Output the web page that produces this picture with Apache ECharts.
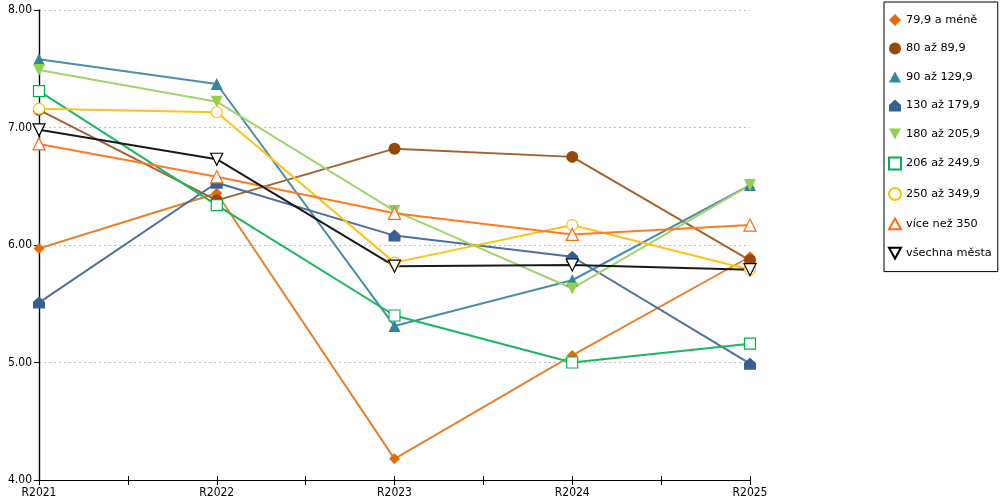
<!DOCTYPE html>
<html>
<head>
<meta charset="utf-8">
<script src="https://cdn.jsdelivr.net/npm/echarts@6/dist/echarts.min.js"></script>
<style>html,body{margin:0;padding:0;background:#fff}#c{width:1000px;height:500px}</style>
</head>
<body>
<div id="c"></div>
<script>
const categories = ['R2021', 'R2022', 'R2023', 'R2024', 'R2025'];
const yTicks = [4, 5, 6, 7, 8];

const s79 = [5.97, 6.44, 4.18, 5.06, 5.90];
const s80 = [7.15, 6.38, 6.82, 6.75, 5.87];
const s90 = [7.58, 7.37, 5.31, 5.70, 6.51];
const s130 = [5.51, 6.53, 6.08, 5.90, 4.99];
const s180 = [7.49, 7.22, 6.29, 5.63, 6.51];
const s206 = [7.31, 6.34, 5.40, 5.00, 5.16];
const s250 = [7.16, 7.13, 5.85, 6.17, 5.79];
const s350 = [6.86, 6.58, 6.27, 6.09, 6.17];
const sAll = [6.98, 6.73, 5.82, 5.83, 5.79];

const names = ['79,9 a méně', '80 až 89,9', '90 až 129,9', '130 až 179,9', '180 až 205,9', '206 až 249,9', '250 až 349,9', 'více než 350', 'všechna města'];

const HOUSE = 'path://M5,0 L10,4.5 L10,10 L0,10 L0,4.5 Z';
const DOWN = 'path://M0,0 L10,0 L5,9 Z';
const UP = 'path://M5,0 L10,9 L0,9 Z';

function pts(arr) { return arr.map((v, i) => [i, v]); }

function mk(name, data, lineColor, markColor, symbol, size, hollow) {
  return {
    name: name, type: 'line', data: pts(data),
    symbol: symbol, symbolSize: size,
    showAllSymbol: true,
    lineStyle: { color: lineColor, width: 2 },
    itemStyle: hollow
      ? { color: '#ffffff', borderColor: markColor, borderWidth: 1.2 }
      : { color: markColor, borderColor: markColor, borderWidth: 0 },
    emphasis: { disabled: true },
    animation: false
  };
}

const series = [
  mk(names[0], s79, '#E8812C', '#E36C09', 'diamond', 11, false),
  mk(names[1], s80, '#A3622C', '#974706', 'circle', 12, false),
  mk(names[2], s90, '#4A8EA5', '#31859C', UP, 12, false),
  mk(names[3], s130, '#4D6F9B', '#376092', HOUSE, 12, false),
  mk(names[4], s180, '#A2D46A', '#92D050', DOWN, 12, false),
  mk(names[5], s206, '#1CB560', '#00B050', 'rect', 11, true),
  mk(names[6], s250, '#FFC21A', '#FFC000', 'circle', 11, true),
  mk(names[7], s350, '#FF7A22', '#FF6A10', UP, 12, true),
  mk(names[8], sAll, '#1a1a1a', '#000000', DOWN, 12, true)
];

const legendIcons = ['diamond', 'circle', UP, HOUSE, DOWN, 'rect', 'circle', UP, DOWN];

const axisFont = { fontFamily: 'DejaVu Sans Condensed, DejaVu Sans, sans-serif', fontSize: 12, color: '#000' };

const chart = echarts.init(document.getElementById('c'), null, { renderer: 'canvas' });
chart.setOption({
  animation: false,
  backgroundColor: '#fff',
  grid: { left: 39, right: 250, top: 10, bottom: 20, containLabel: false },
  legend: {
    orient: 'vertical', left: 884, top: 2,
    data: names.map((n, i) => ({ name: n, icon: legendIcons[i] })),
    itemWidth: 12, itemHeight: 12, itemGap: 16.5,
    padding: [12, 6, 12, 4],
    borderColor: '#000', borderWidth: 1,
    textStyle: { fontFamily: 'DejaVu Sans, sans-serif', fontSize: 11.3, lineHeight: 12, color: '#000' },
    selectedMode: false
  },
  xAxis: [{
    type: 'value', min: 0, max: categories.length - 1, interval: 0.5,
    axisLine: { show: true, lineStyle: { color: '#000', width: 1.2 } },
    axisTick: { show: true, length: 5, lineStyle: { color: '#000' } },
    splitLine: { show: false },
    axisLabel: Object.assign({
      margin: 7,
      formatter: v => (Number.isInteger(v) ? categories[v] : '')
    }, axisFont)
  }, {
    type: 'value', min: 0, max: categories.length - 1, interval: 0.5, position: 'bottom',
    axisLine: { show: false },
    axisTick: { show: true, inside: true, length: 4, lineStyle: { color: '#000' } },
    splitLine: { show: false }, axisLabel: { show: false }
  }],
  yAxis: [{
    type: 'value', min: yTicks[0], max: yTicks[yTicks.length - 1], interval: 1,
    axisLine: { show: true, lineStyle: { color: '#000', width: 1.2 } },
    axisTick: { show: true, length: 5, lineStyle: { color: '#000' } },
    splitLine: { show: true, lineStyle: { color: '#bdbdbd', type: [2, 3], width: 1 } },
    axisLabel: Object.assign({ margin: 7, formatter: v => v.toFixed(2) }, axisFont)
  }, {
    type: 'value', min: yTicks[0], max: yTicks[yTicks.length - 1], interval: 1, position: 'right',
    axisLine: { show: true, lineStyle: { color: '#000', width: 1.2 } },
    axisTick: { show: false }, splitLine: { show: false }, axisLabel: { show: false }
  }],
  series: series
});
</script>
</body>
</html>
